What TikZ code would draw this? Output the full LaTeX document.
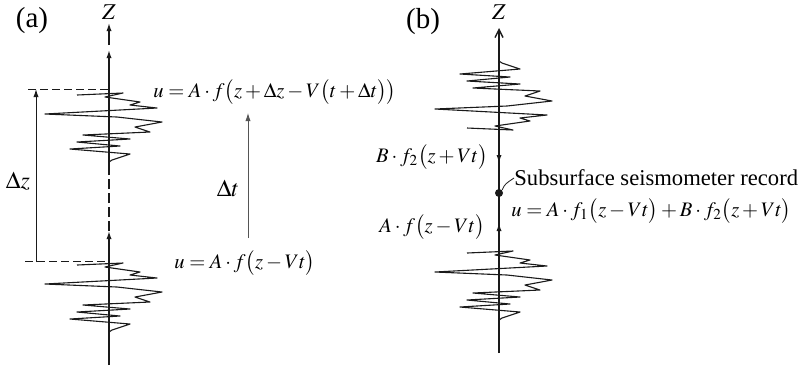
\documentclass[tikz,border=0pt]{standalone}
\usepackage{mathptmx}
\usepackage{fontspec}
\setmainfont{Liberation Serif}
\usepackage{tikz,amsmath}
\usetikzlibrary{arrows.meta,positioning,calc}
\definecolor{ink}{HTML}{1A1A1A}
\definecolor{thin}{HTML}{555555}
\tikzset{
  zaxis/.style={draw=ink,line width=0.7pt},
  ar/.style={-{Latex[length=4pt,width=2.6pt]},draw=ink,line width=0.7pt},
  guide/.style={draw=ink,line width=0.5pt,dash pattern=on 4pt off 2pt},
  wave/.style={draw=ink,line width=0.55pt,line join=round},
  lbl/.style={inner sep=1pt,font=\fontsize{11.3}{13}\selectfont},
  eq/.style={inner sep=0pt,font=\fontsize{10.3}{12}\selectfont},
  panel/.style={inner sep=1pt,font=\fontsize{14.5}{16}\selectfont},
  delta/.style={inner sep=1pt,font=\fontsize{12}{14}\selectfont},
}
\newcommand{\wavepts}{(-32,2) (14,0) (-4,4) (31,9) (21,12) (48,15) (-64,21) (8,24) (53,29) (26,34) (41,39) (-26,42) (21,46) (-32,49) (11,53) (-39,56) (21,61) (3,67) (0,69)}

\begin{document}
\begin{tikzpicture}[x=0.5pt,y=-0.5pt]
  \useasboundingbox (0,0) rectangle (806,372);
  % panel (a)
  \node[panel] (pa) at (32,21) {(a)};
  \node[lbl] (za) at (109,12) {$Z$};
  \coordinate (a0) at (109,365);
  \coordinate (a1) at (109,231);
  \coordinate (a2) at (109,168);
  \coordinate (a3) at (109,50);
  \coordinate (a4) at (109,45);
  \coordinate (a5) at (109,23);
  \draw[ar] (a0) -- (a1);
  \draw[zaxis,dash pattern=on 5pt off 2pt] (a1) -- (a2);
  \draw[ar] (a2) -- (a3);
  \draw[ar] (a4) -- (a5);
  \draw[wave,shift={(109,93)}] plot coordinates {\wavepts};
  \draw[wave,shift={(109,263)}] plot coordinates {\wavepts};
  % offset marks
  \coordinate (dzt) at (36,89);
  \coordinate (dzb) at (36,262);
  \draw[guide] (28,89) -- (109,89);
  \draw[guide] (25,261) -- (109,261);
  \draw[ar,line width=0.5pt] (dzb) -- (dzt);
  \node[delta] (dz) at (18,181) {$\Delta z$};
  \coordinate (dtb) at (248,238);
  \coordinate (dtt) at (248,113);
  \draw[ar,line width=0.4pt,draw=thin] (dtb) -- (dtt);
  \node[delta] (dt) at (228,188) {$\Delta t$};
  \node[eq,anchor=west] (ulate) at (153,92) {$u=A\cdot f\bigl(z+\Delta z-V\bigl(t+\Delta t\bigr)\bigr)$};
  \node[eq,anchor=west] (uearly) at (174,263) {$u=A\cdot f\bigl(z-Vt\bigr)$};
  % panel (b)
  \node[panel] (pb) at (423,22) {(b)};
  \node[lbl] (zb) at (499,12) {$Z$};
  \coordinate (b0) at (499,353);
  \coordinate (b1) at (499,28);
  \draw[ar,-{Straight Barb[length=4pt,width=4pt]}] (b0) -- (b1);
  \draw[wave,shift={(499,130)},yscale=-1] plot coordinates {\wavepts};
  \draw[wave,shift={(499,251)}] plot coordinates {\wavepts};
  \coordinate (dn0) at (499,140);
  \coordinate (dn1) at (499,163);
  \coordinate (up0) at (499,240);
  \coordinate (up1) at (499,223);
  \draw[ar] (dn0) -- (dn1);
  \draw[ar] (up0) -- (up1);
  \node[circle,fill=ink,inner sep=0pt,minimum size=4pt] (rec) at (499,193) {};
  \node[eq,anchor=east] (down) at (488,157) {$B\cdot f_2\bigl(z+Vt\bigr)$};
  \node[eq,anchor=east] (upw) at (485,227) {$A\cdot f\bigl(z-Vt\bigr)$};
  \node[lbl,anchor=west,inner sep=0pt] (seis) at (514,178) {Subsurface seismometer record};
  \node[eq,anchor=west] (usum) at (511,211) {$u=A\cdot f_1\bigl(z-Vt\bigr)+B\cdot f_2\bigl(z+Vt\bigr)$};
  \draw[draw=ink,line width=0.4pt] (rec.north east) .. controls (505,184) .. (seis.west);
\end{tikzpicture}
\end{document}
